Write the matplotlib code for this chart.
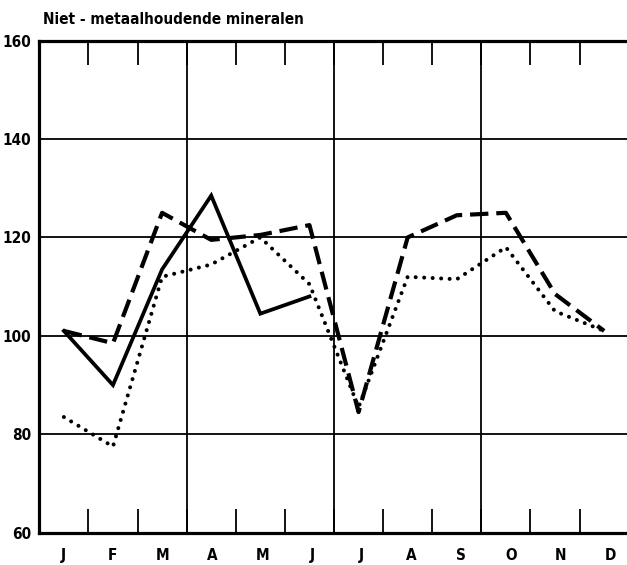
import matplotlib
matplotlib.use("Agg")
import matplotlib.pyplot as plt

plt.rcParams['font.family'] = ['DejaVu Sans']
plt.rcParams['font.stretch'] = 'condensed'
plt.rcParams['font.weight'] = 'bold'

title = "Niet - metaalhoudende mineralen"
months = ["J", "F", "M", "A", "M", "J", "J", "A", "S", "O", "N", "D"]
y_ticks = [60, 80, 100, 120, 140, 160]

# three series (index per month)
solid = [101, 90, 113.5, 128.5, 104.5, 108]
dashed = [101, 98.5, 125, 119.5, 120.5, 122.5, 84.5, 120, 124.5, 125, 108.5, 101]
dotted = [83.5, 77.5, 112, 114.5, 120, 110.5, 85.5, 112, 111.5, 118, 105, 101]


def main() -> None:
    fig = plt.figure(figsize=(6.27, 5.65), dpi=100)
    ax = fig.add_axes([0.0627, 0.0572, 0.940, 0.871])

    # grid: horizontal at every label, vertical at quarter boundaries
    for y in y_ticks[1:-1]:
        ax.axhline(y, color="black", lw=1.3, zorder=1)
    for q in (3, 6, 9):
        ax.axvline(q, color="black", lw=1.3, zorder=1)

    x_solid = [i + 0.5 for i in range(len(solid))]
    x_full = [i + 0.5 for i in range(len(dashed))]

    ax.plot(x_solid, solid, color="black", lw=2.7, solid_joinstyle="miter", zorder=3)
    ax.plot(x_full, dashed, color="black", lw=3.0, linestyle=(0, (4.4, 1.9)),
            dash_capstyle="butt", zorder=3)
    ax.plot(x_full, dotted, color="black", lw=2.9, linestyle=(0, (0.01, 2.1)),
            dash_capstyle="round", zorder=3)

    ax.set_xlim(0, 12)
    ax.set_ylim(60, 160)

    for side in ("left", "bottom", "top", "right"):
        ax.spines[side].set_linewidth(2.3)

    # month boundary ticks, top and bottom, pointing in
    ax.set_xticks(range(1, 12), minor=True)
    ax.tick_params(axis="x", which="minor", direction="in", length=17, width=1.3,
                   top=True, bottom=True)
    ax.tick_params(axis="x", which="major", length=0, pad=11, labelsize=11)
    ax.set_xticks([0.48 + 1.014 * k for k in range(12)])
    ax.set_xticklabels(months)

    ax.set_yticks(y_ticks)
    ax.set_yticklabels([str(v) for v in y_ticks])
    ax.tick_params(axis="y", length=0, pad=6, labelsize=11)

    fig.text(0.068, 0.965, title, fontsize=11, fontweight="bold", va="center", ha="left")

    fig.savefig("out.png", dpi=100)
    plt.close(fig)


if __name__ == "__main__":
    main()
